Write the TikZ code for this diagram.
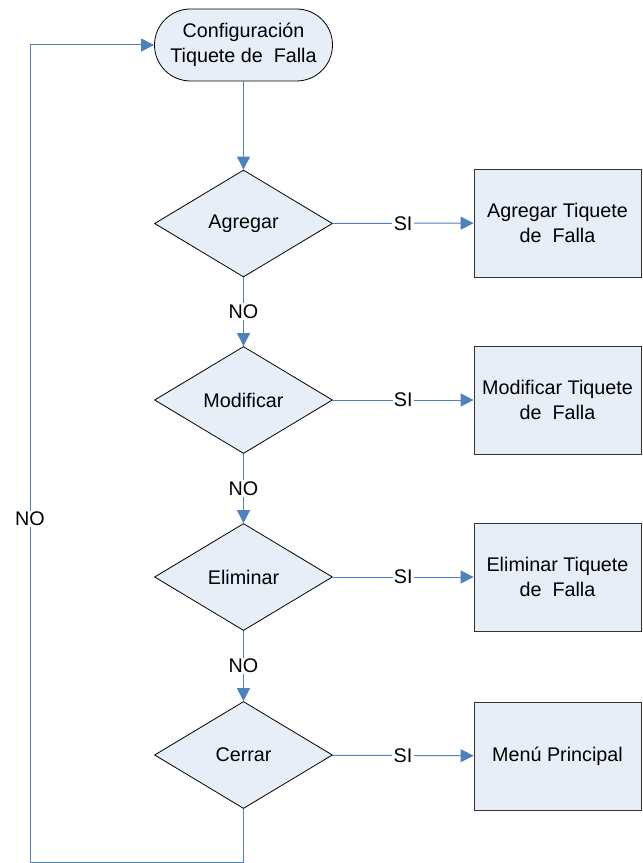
\documentclass[tikz,border=0pt]{standalone}
\usepackage{fontspec}
\setmainfont{Liberation Sans}
\usetikzlibrary{positioning,arrows.meta,shapes.geometric}
\definecolor{flowfill}{RGB}{232,238,248}
\definecolor{flowline}{RGB}{79,129,189}

\begin{document}
\begin{tikzpicture}[x=0.75pt, y=-0.75pt,
  font=\fontsize{14.8}{18.5}\selectfont,
  term/.style={draw, line width=0.6pt, rounded corners=27pt, fill=flowfill,
               minimum width=133.5pt, minimum height=54pt, align=center, inner sep=0pt},
  decision/.style={draw, line width=0.6pt, diamond, fill=flowfill,
               minimum width=133.5pt, minimum height=80.25pt, inner sep=0pt},
  action/.style={draw, line width=0.6pt, draw=black!80, fill=flowfill,
               minimum width=125.25pt, minimum height=81pt, align=center, inner sep=0pt},
  arr/.style={-{Triangle[length=9.75pt, width=9.75pt]}, flowline, line width=0.75pt},
  lab/.style={fill=white, inner sep=1pt, text=black}]
\useasboundingbox (0,0) rectangle (642,863);
\node[term] (conf) at (243.5,45) {Configuración\\Tiquete de~ Falla};
\node[decision] (agregar) at (243.5,223.5) {Agregar};
\node[decision] (modificar) at (243.5,400) {Modificar};
\node[decision] (eliminar) at (243.5,577) {Eliminar};
\node[decision] (cerrar) at (243.5,755) {Cerrar};
\node[action] (addbox) at (557.5,223) {Agregar Tiquete\\de~ Falla};
\node[action] (modbox) at (557.5,400) {Modificar Tiquete\\de~ Falla};
\node[action] (delbox) at (557.5,577) {Eliminar Tiquete\\de~ Falla};
\node[action] (menu) at (557.5,756) {Menú Principal};
\coordinate (back) at (30,862);
% flujo principal
\draw[arr] (conf) -- (agregar);
\draw[arr] (agregar) -- (modificar) node[midway, lab]{NO};
\draw[arr] (modificar) -- (eliminar) node[midway, lab]{NO};
\draw[arr] (eliminar) -- (cerrar) node[midway, lab]{NO};
% ramas SI
\draw[arr] (agregar) -- (addbox) node[midway, lab]{SI};
\draw[arr] (modificar) -- (modbox) node[midway, lab]{SI};
\draw[arr] (eliminar) -- (delbox) node[midway, lab]{SI};
\draw[arr] (cerrar) -- (menu) node[midway, lab]{SI};
% regreso
\draw[arr] (cerrar.south) |- (back) |- (conf.west) node[pos=0.21, lab]{NO};
\end{tikzpicture}
\end{document}
